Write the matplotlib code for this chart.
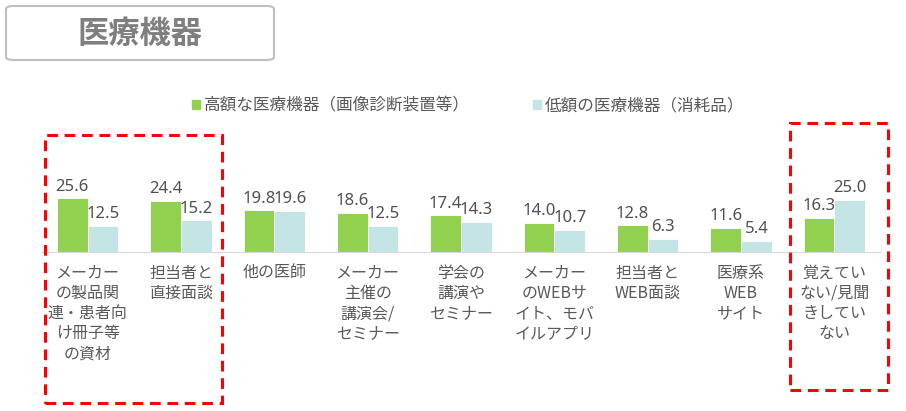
import matplotlib
matplotlib.use("Agg")
import matplotlib.pyplot as plt
from matplotlib.patches import FancyBboxPatch, Rectangle, Patch
import numpy as np

plt.rcParams['font.family'] = ['Noto Sans CJK JP', 'DejaVu Sans']

categories = [
    "メーカー\nの製品関\n連・患者向\nけ冊子等\nの資材",
    "担当者と\n直接面談",
    "他の医師",
    "メーカー\n主催の\n講演会/\nセミナー",
    "学会の\n講演や\nセミナー",
    "メーカー\nのWEBサ\nイト、モバ\nイルアプリ",
    "担当者と\nWEB面談",
    "医療系\nWEB\nサイト",
    "覚えてい\nない/見聞\nきしてい\nない",
]
high_cost = [25.6, 24.4, 19.8, 18.6, 17.4, 14.0, 12.8, 11.6, 16.3]
low_cost = [12.5, 15.2, 19.6, 12.5, 14.3, 10.7, 6.3, 5.4, 25.0]
series_names = ["高額な医療機器（画像診断装置等）", "低額の医療機器（消耗品）"]
title = "医療機器"

GREEN = "#92D050"
TEAL = "#C4E5E5"
TEXT = "#595959"

W, H = 906, 411
fig = plt.figure(figsize=(W / 100, H / 100), dpi=100)

def px(x0, y0, x1, y1):
    # pixel box (top-left origin) -> figure fraction [left, bottom, width, height]
    return [x0 / W, 1 - y1 / H, (x1 - x0) / W, (y1 - y0) / H]

ax = fig.add_axes(px(41, 168, 881, 252))
x = np.arange(len(categories))
bw = 0.33
b1 = ax.bar(x - bw / 2, high_cost, bw, color=GREEN, edgecolor="white", linewidth=0.6)
b2 = ax.bar(x + bw / 2, low_cost, bw, color=TEAL, edgecolor="white", linewidth=0.6)
for bars, vals in [(b1, high_cost), (b2, low_cost)]:
    for r, v in zip(bars, vals):
        ax.annotate(f"{v:.1f}", (r.get_x() + r.get_width() / 2, v), xytext=(0, 2.5),
                    textcoords="offset points", ha="center", va="bottom",
                    fontsize=12, color="#505050", family=['Noto Sans', 'DejaVu Sans'])

ax.set_xlim(-0.5, len(categories) - 0.5)
ax.set_ylim(0, 40)
ax.set_xticks(x)
ax.set_xticklabels(categories, fontsize=11.5, color=TEXT, linespacing=1.25, va="top")
ax.tick_params(axis="x", length=0, pad=9)
ax.set_yticks([])
for s in ["top", "right", "left"]:
    ax.spines[s].set_visible(False)
ax.spines["bottom"].set_color("#D9D9D9")
ax.patch.set_alpha(0)

# title box
fig.patches.append(FancyBboxPatch((6 / W, 1 - 60 / H), 268 / W, 54 / H,
                                  boxstyle="round,pad=0,rounding_size=0.008",
                                  transform=fig.transFigure, facecolor="white",
                                  edgecolor="#BFBFBF", linewidth=1.5))
fig.text(140 / W, 1 - 34 / H, title, ha="center", va="center", fontsize=22.5,
         fontweight="bold", color="#7F7F7F")

handles = [Patch(color=GREEN), Patch(color=TEAL)]
fig.legend(handles, series_names, loc="center", bbox_to_anchor=(468 / W, 1 - 106 / H),
           ncol=2, frameon=False, fontsize=12, labelcolor=TEXT,
           handlelength=0.5, handleheight=0.5, handletextpad=0.2, columnspacing=3.8)

# red dashed highlight boxes
for x0, y0, x1, y1 in [(45, 135, 222, 403), (790, 123, 888, 390)]:
    fig.patches.append(Rectangle((x0 / W, 1 - y1 / H), (x1 - x0) / W, (y1 - y0) / H,
                                 transform=fig.transFigure, fill=False,
                                 edgecolor="#FF0000", linewidth=2.2,
                                 linestyle=(0, (3.5, 2.2))))

fig.savefig("out.png", dpi=100)
